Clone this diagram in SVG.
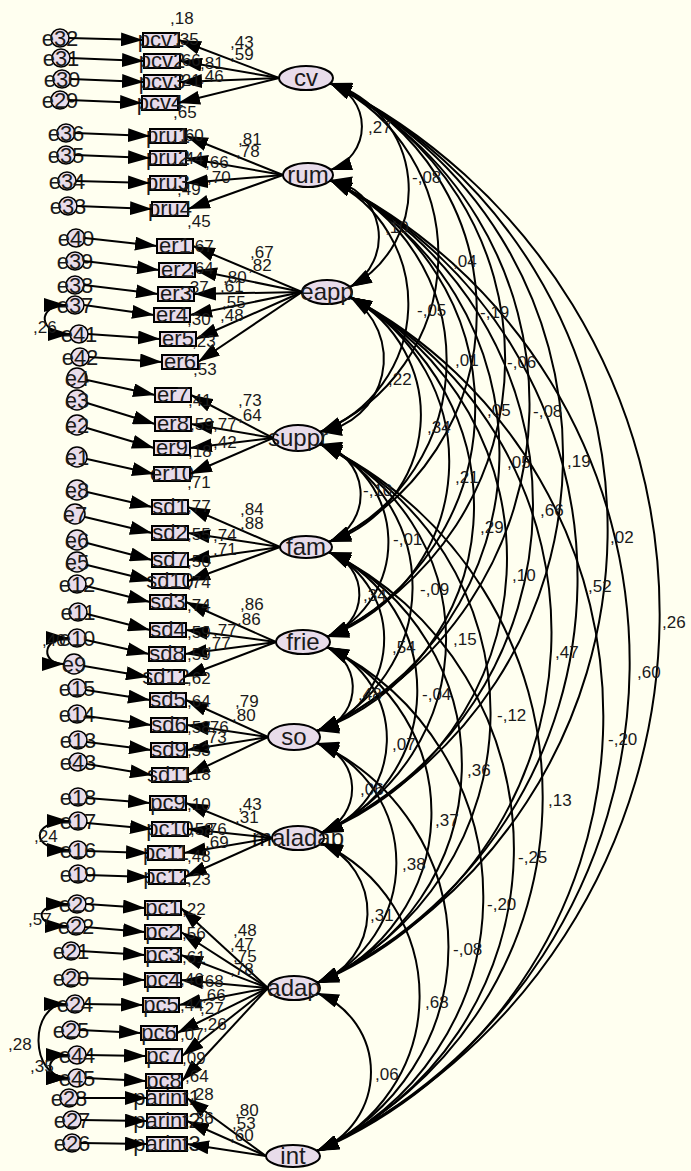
<svg xmlns="http://www.w3.org/2000/svg" width="691" height="1171" viewBox="0 0 691 1171">
<defs>
<marker id="ah" viewBox="0 0 22 14" refX="22" refY="7" markerWidth="22" markerHeight="14" markerUnits="userSpaceOnUse" orient="auto-start-reverse"><path d="M0,0 L22,7 L0,14 z" fill="#000"/></marker>
<style>
.lat{fill:#E8DCEA;stroke:#000;stroke-width:2}
.obs{fill:#E8DCEA;stroke:#000;stroke-width:2}
.err{fill:#E8DCEA;stroke:#000;stroke-width:1.5}
text{font-family:"Liberation Sans",Arial,sans-serif;fill:#1a1a1a}
.tl{font-size:24px;text-anchor:middle}
.tb{font-size:22px;text-anchor:middle}
.te{font-size:22px;text-anchor:middle}
.tn{font-size:17px}
.c{fill:none;stroke:#000;stroke-width:2}
.a{marker-end:url(#ah)}
.d{marker-start:url(#ah);marker-end:url(#ah)}
</style>
</defs>
<rect width="691" height="1171" fill="#FFFFF0"/>

<g id="nodes">
<g id="cv"><ellipse class="lat" cx="306" cy="78" rx="27" ry="12"/><text class="tl" x="306" y="86">cv</text></g>
<g id="rum"><ellipse class="lat" cx="308" cy="175" rx="25" ry="12"/><text class="tl" x="308" y="183">rum</text></g>
<g id="eapp"><ellipse class="lat" cx="327" cy="292" rx="25" ry="12"/><text class="tl" x="327" y="300">eapp</text></g>
<g id="suppr"><ellipse class="lat" cx="298" cy="438" rx="25" ry="13"/><text class="tl" x="298" y="446">suppr</text></g>
<g id="fam"><ellipse class="lat" cx="306" cy="547" rx="26" ry="11"/><text class="tl" x="306" y="555">fam</text></g>
<g id="frie"><ellipse class="lat" cx="303" cy="642" rx="27" ry="12"/><text class="tl" x="303" y="650">frie</text></g>
<g id="so"><ellipse class="lat" cx="294" cy="737" rx="26" ry="13"/><text class="tl" x="294" y="745">so</text></g>
<g id="maladap"><ellipse class="lat" cx="298" cy="838" rx="26" ry="12"/><text class="tl" x="298" y="846">maladap</text></g>
<g id="adap"><ellipse class="lat" cx="294" cy="988" rx="26" ry="12"/><text class="tl" x="294" y="996">adap</text></g>
<g id="int"><ellipse class="lat" cx="293" cy="1156" rx="27" ry="11"/><text class="tl" x="293" y="1164">int</text></g>

<g id="n-pcv1"><rect class="obs" x="143" y="33" width="36" height="14"/><text class="tb" x="161" y="47">pcv1</text></g>
<g id="n-pcv2"><rect class="obs" x="144" y="54" width="36" height="14"/><text class="tb" x="162" y="68">pcv2</text></g>
<g id="n-pcv3"><rect class="obs" x="144" y="75" width="36" height="14"/><text class="tb" x="162" y="89">pcv3</text></g>
<g id="n-pcv4"><rect class="obs" x="142" y="96" width="36" height="14"/><text class="tb" x="160" y="110">pcv4</text></g>
<g id="n-pru1"><rect class="obs" x="150" y="129" width="36" height="14"/><text class="tb" x="168" y="143">pru1</text></g>
<g id="n-pru2"><rect class="obs" x="150" y="151" width="36" height="14"/><text class="tb" x="168" y="165">pru2</text></g>
<g id="n-pru3"><rect class="obs" x="150" y="176" width="36" height="14"/><text class="tb" x="168" y="190">pru3</text></g>
<g id="n-pru4"><rect class="obs" x="152" y="202" width="36" height="14"/><text class="tb" x="170" y="216">pru4</text></g>
<g id="n-er1"><rect class="obs" x="157" y="239" width="36" height="14"/><text class="tb" x="175" y="253">er1</text></g>
<g id="n-er2"><rect class="obs" x="159" y="263" width="36" height="14"/><text class="tb" x="177" y="277">er2</text></g>
<g id="n-er3"><rect class="obs" x="158" y="287" width="36" height="14"/><text class="tb" x="176" y="301">er3</text></g>
<g id="n-er4"><rect class="obs" x="154" y="308" width="36" height="14"/><text class="tb" x="172" y="322">er4</text></g>
<g id="n-er5"><rect class="obs" x="160" y="332" width="36" height="14"/><text class="tb" x="178" y="346">er5</text></g>
<g id="n-er6"><rect class="obs" x="162" y="355" width="36" height="14"/><text class="tb" x="180" y="369">er6</text></g>
<g id="n-er7"><rect class="obs" x="155" y="388" width="36" height="14"/><text class="tb" x="173" y="402">er7</text></g>
<g id="n-er8"><rect class="obs" x="155" y="417" width="36" height="14"/><text class="tb" x="173" y="431">er8</text></g>
<g id="n-er9"><rect class="obs" x="154" y="441" width="36" height="14"/><text class="tb" x="172" y="455">er9</text></g>
<g id="n-er10"><rect class="obs" x="154" y="467" width="36" height="14"/><text class="tb" x="172" y="481">er10</text></g>
<g id="n-sd1"><rect class="obs" x="152" y="500" width="36" height="14"/><text class="tb" x="170" y="514">sd1</text></g>
<g id="n-sd2"><rect class="obs" x="152" y="526" width="36" height="14"/><text class="tb" x="170" y="540">sd2</text></g>
<g id="n-sd7"><rect class="obs" x="152" y="553" width="36" height="14"/><text class="tb" x="170" y="567">sd7</text></g>
<g id="n-sd10"><rect class="obs" x="152" y="574" width="36" height="14"/><text class="tb" x="170" y="588">sd10</text></g>
<g id="n-sd3"><rect class="obs" x="150" y="595" width="36" height="14"/><text class="tb" x="168" y="609">sd3</text></g>
<g id="n-sd4"><rect class="obs" x="150" y="623" width="36" height="14"/><text class="tb" x="168" y="637">sd4</text></g>
<g id="n-sd8"><rect class="obs" x="149" y="647" width="36" height="14"/><text class="tb" x="167" y="661">sd8</text></g>
<g id="n-sd12"><rect class="obs" x="148" y="670" width="36" height="14"/><text class="tb" x="166" y="684">sd12</text></g>
<g id="n-sd5"><rect class="obs" x="150" y="693" width="36" height="14"/><text class="tb" x="168" y="707">sd5</text></g>
<g id="n-sd6"><rect class="obs" x="151" y="718" width="36" height="14"/><text class="tb" x="169" y="732">sd6</text></g>
<g id="n-sd9"><rect class="obs" x="151" y="743" width="36" height="14"/><text class="tb" x="169" y="757">sd9</text></g>
<g id="n-sd11"><rect class="obs" x="152" y="768" width="36" height="14"/><text class="tb" x="170" y="782">sd11</text></g>
<g id="n-pc9"><rect class="obs" x="150" y="796" width="36" height="14"/><text class="tb" x="168" y="810">pc9</text></g>
<g id="n-pc10"><rect class="obs" x="152" y="822" width="36" height="14"/><text class="tb" x="170" y="836">pc10</text></g>
<g id="n-pc11"><rect class="obs" x="148" y="846" width="36" height="14"/><text class="tb" x="166" y="860">pc11</text></g>
<g id="n-pc12"><rect class="obs" x="149" y="870" width="36" height="14"/><text class="tb" x="167" y="884">pc12</text></g>
<g id="n-pc1"><rect class="obs" x="145" y="901" width="36" height="14"/><text class="tb" x="163" y="915">pc1</text></g>
<g id="n-pc2"><rect class="obs" x="145" y="925" width="36" height="14"/><text class="tb" x="163" y="939">pc2</text></g>
<g id="n-pc3"><rect class="obs" x="145" y="948" width="36" height="14"/><text class="tb" x="163" y="962">pc3</text></g>
<g id="n-pc4"><rect class="obs" x="145" y="973" width="36" height="14"/><text class="tb" x="163" y="987">pc4</text></g>
<g id="n-pc5"><rect class="obs" x="143" y="998" width="36" height="14"/><text class="tb" x="161" y="1012">pc5</text></g>
<g id="n-pc6"><rect class="obs" x="141" y="1026" width="36" height="14"/><text class="tb" x="159" y="1040">pc6</text></g>
<g id="n-pc7"><rect class="obs" x="146" y="1049" width="36" height="14"/><text class="tb" x="164" y="1063">pc7</text></g>
<g id="n-pc8"><rect class="obs" x="146" y="1074" width="36" height="14"/><text class="tb" x="164" y="1088">pc8</text></g>
<g id="n-parint1"><rect class="obs" x="147" y="1091" width="40" height="14"/><text class="tb" x="167" y="1105">parint1</text></g>
<g id="n-parint2"><rect class="obs" x="147" y="1114" width="40" height="14"/><text class="tb" x="167" y="1128">parint2</text></g>
<g id="n-parint3"><rect class="obs" x="147" y="1137" width="40" height="14"/><text class="tb" x="167" y="1151">parint3</text></g>

<g id="e32"><circle class="err" cx="60" cy="38" r="9"/><text class="te" x="60" y="46">e32</text></g>
<g id="e31"><circle class="err" cx="61" cy="58" r="9"/><text class="te" x="61" y="66">e31</text></g>
<g id="e30"><circle class="err" cx="62" cy="79" r="9"/><text class="te" x="62" y="87">e30</text></g>
<g id="e29"><circle class="err" cx="60" cy="100" r="9"/><text class="te" x="60" y="108">e29</text></g>
<g id="e36"><circle class="err" cx="66" cy="133" r="9"/><text class="te" x="66" y="141">e36</text></g>
<g id="e35"><circle class="err" cx="66" cy="155" r="9"/><text class="te" x="66" y="163">e35</text></g>
<g id="e34"><circle class="err" cx="67" cy="181" r="9"/><text class="te" x="67" y="189">e34</text></g>
<g id="e33"><circle class="err" cx="68" cy="206" r="9"/><text class="te" x="68" y="214">e33</text></g>
<g id="e40"><circle class="err" cx="76" cy="238" r="9"/><text class="te" x="76" y="246">e40</text></g>
<g id="e39"><circle class="err" cx="75" cy="261" r="9"/><text class="te" x="75" y="269">e39</text></g>
<g id="e38"><circle class="err" cx="75" cy="285" r="9"/><text class="te" x="75" y="293">e38</text></g>
<g id="e37"><circle class="err" cx="75" cy="305" r="9"/><text class="te" x="75" y="313">e37</text></g>
<g id="e41"><circle class="err" cx="79" cy="334" r="9"/><text class="te" x="79" y="342">e41</text></g>
<g id="e42"><circle class="err" cx="80" cy="357" r="9"/><text class="te" x="80" y="365">e42</text></g>
<g id="e4"><circle class="err" cx="77" cy="378" r="10"/><text class="te" x="77" y="386">e4</text></g>
<g id="e3"><circle class="err" cx="77" cy="400" r="10"/><text class="te" x="77" y="408">e3</text></g>
<g id="e2"><circle class="err" cx="77" cy="425" r="10"/><text class="te" x="77" y="433">e2</text></g>
<g id="e1"><circle class="err" cx="77" cy="457" r="10"/><text class="te" x="77" y="465">e1</text></g>
<g id="e8"><circle class="err" cx="77" cy="490" r="10"/><text class="te" x="77" y="498">e8</text></g>
<g id="e7"><circle class="err" cx="75" cy="514" r="10"/><text class="te" x="75" y="522">e7</text></g>
<g id="e6"><circle class="err" cx="77" cy="540" r="10"/><text class="te" x="77" y="548">e6</text></g>
<g id="e5"><circle class="err" cx="77" cy="562" r="10"/><text class="te" x="77" y="570">e5</text></g>
<g id="e12"><circle class="err" cx="77" cy="584" r="9"/><text class="te" x="77" y="592">e12</text></g>
<g id="e11"><circle class="err" cx="78" cy="612" r="9"/><text class="te" x="78" y="620">e11</text></g>
<g id="e10"><circle class="err" cx="77" cy="638" r="9"/><text class="te" x="77" y="646">e10</text></g>
<g id="e9"><circle class="err" cx="74" cy="664" r="10"/><text class="te" x="74" y="672">e9</text></g>
<g id="e15"><circle class="err" cx="77" cy="688" r="9"/><text class="te" x="77" y="696">e15</text></g>
<g id="e14"><circle class="err" cx="77" cy="714" r="9"/><text class="te" x="77" y="722">e14</text></g>
<g id="e13"><circle class="err" cx="78" cy="740" r="9"/><text class="te" x="78" y="748">e13</text></g>
<g id="e43"><circle class="err" cx="78" cy="762" r="9"/><text class="te" x="78" y="770">e43</text></g>
<g id="e18"><circle class="err" cx="78" cy="797" r="9"/><text class="te" x="78" y="805">e18</text></g>
<g id="e17"><circle class="err" cx="78" cy="821" r="9"/><text class="te" x="78" y="829">e17</text></g>
<g id="e16"><circle class="err" cx="78" cy="850" r="9"/><text class="te" x="78" y="858">e16</text></g>
<g id="e19"><circle class="err" cx="78" cy="874" r="9"/><text class="te" x="78" y="882">e19</text></g>
<g id="e23"><circle class="err" cx="77" cy="904" r="9"/><text class="te" x="77" y="912">e23</text></g>
<g id="e22"><circle class="err" cx="76" cy="926" r="9"/><text class="te" x="76" y="934">e22</text></g>
<g id="e21"><circle class="err" cx="71" cy="951" r="9"/><text class="te" x="71" y="959">e21</text></g>
<g id="e20"><circle class="err" cx="71" cy="978" r="9"/><text class="te" x="71" y="986">e20</text></g>
<g id="e24"><circle class="err" cx="75" cy="1004" r="9"/><text class="te" x="75" y="1012">e24</text></g>
<g id="e25"><circle class="err" cx="71" cy="1030" r="9"/><text class="te" x="71" y="1038">e25</text></g>
<g id="e44"><circle class="err" cx="77" cy="1055" r="9"/><text class="te" x="77" y="1063">e44</text></g>
<g id="e45"><circle class="err" cx="77" cy="1078" r="9"/><text class="te" x="77" y="1086">e45</text></g>
<g id="e28"><circle class="err" cx="69" cy="1098" r="9"/><text class="te" x="69" y="1106">e28</text></g>
<g id="e27"><circle class="err" cx="72" cy="1120" r="9"/><text class="te" x="72" y="1128">e27</text></g>
<g id="e26"><circle class="err" cx="72" cy="1143" r="9"/><text class="te" x="72" y="1151">e26</text></g>
</g>

<g id="connectors" class="c">
<!-- error to indicator -->
<path class="a" d="M69,38 L143,40"/><path class="a" d="M70,58 L144,61"/><path class="a" d="M71,79 L144,82"/><path class="a" d="M69,100 L142,103"/>
<path class="a" d="M75,133 L150,136"/><path class="a" d="M75,155 L150,158"/><path class="a" d="M76,181 L150,183"/><path class="a" d="M77,206 L152,209"/>
<path class="a" d="M85,238 L157,246"/><path class="a" d="M84,261 L159,270"/><path class="a" d="M84,285 L158,294"/><path class="a" d="M84,305 L154,315"/><path class="a" d="M88,334 L160,339"/><path class="a" d="M89,357 L162,362"/>
<path class="a" d="M87,380 L155,395"/><path class="a" d="M87,403 L155,424"/><path class="a" d="M87,428 L154,448"/><path class="a" d="M87,459 L154,474"/>
<path class="a" d="M87,492 L152,507"/><path class="a" d="M85,517 L152,533"/><path class="a" d="M87,543 L152,560"/><path class="a" d="M87,565 L152,581"/>
<path class="a" d="M86,586 L150,602"/><path class="a" d="M87,614 L150,630"/><path class="a" d="M86,640 L149,654"/><path class="a" d="M84,666 L148,677"/>
<path class="a" d="M86,690 L150,700"/><path class="a" d="M86,716 L151,725"/><path class="a" d="M87,742 L151,750"/><path class="a" d="M87,764 L152,775"/>
<path class="a" d="M87,798 L150,803"/><path class="a" d="M87,823 L152,829"/><path class="a" d="M87,851 L148,853"/><path class="a" d="M87,875 L149,877"/>
<path class="a" d="M86,904 L145,908"/><path class="a" d="M85,927 L145,932"/><path class="a" d="M80,951 L145,955"/><path class="a" d="M80,978 L145,980"/><path class="a" d="M84,1004 L143,1005"/><path class="a" d="M80,1030 L141,1033"/><path class="a" d="M86,1055 L146,1056"/><path class="a" d="M86,1078 L146,1081"/>
<path class="a" d="M78,1098 L147,1098"/><path class="a" d="M81,1120 L147,1121"/><path class="a" d="M81,1143 L147,1144"/>
<!-- factor loadings -->
<path class="a" d="M279,78 L179,40"/><path class="a" d="M279,78 L180,61"/><path class="a" d="M279,78 L180,82"/><path class="a" d="M279,78 L178,103"/>
<path class="a" d="M283,175 L186,136"/><path class="a" d="M283,175 L186,158"/><path class="a" d="M283,175 L186,183"/><path class="a" d="M283,175 L188,209"/>
<path class="a" d="M302,292 L193,246"/><path class="a" d="M302,292 L195,270"/><path class="a" d="M302,292 L194,294"/><path class="a" d="M302,292 L190,315"/><path class="a" d="M302,292 L196,339"/><path class="a" d="M302,292 L198,362"/>
<path class="a" d="M273,438 L191,395"/><path class="a" d="M273,438 L191,424"/><path class="a" d="M273,438 L190,448"/><path class="a" d="M273,438 L190,474"/>
<path class="a" d="M280,547 L188,507"/><path class="a" d="M280,547 L188,533"/><path class="a" d="M280,547 L188,560"/><path class="a" d="M280,547 L188,581"/>
<path class="a" d="M276,642 L186,602"/><path class="a" d="M276,642 L186,630"/><path class="a" d="M276,642 L185,654"/><path class="a" d="M276,642 L184,677"/>
<path class="a" d="M268,737 L186,700"/><path class="a" d="M268,737 L187,725"/><path class="a" d="M268,737 L187,750"/><path class="a" d="M268,737 L188,775"/>
<path class="a" d="M272,838 L186,803"/><path class="a" d="M272,838 L188,829"/><path class="a" d="M272,838 L184,853"/><path class="a" d="M272,838 L185,877"/>
<path class="a" d="M268,988 L181,908"/><path class="a" d="M268,988 L181,932"/><path class="a" d="M268,988 L181,955"/><path class="a" d="M268,988 L181,980"/><path class="a" d="M268,988 L179,1005"/><path class="a" d="M268,988 L177,1033"/><path class="a" d="M268,988 L182,1056"/><path class="a" d="M268,988 L182,1081"/>
<path class="a" d="M266,1156 L187,1098"/><path class="a" d="M266,1156 L187,1121"/><path class="a" d="M266,1156 L187,1144"/>
<!-- error covariances -->
<path class="d" d="M66,305 C37,305 37,334 70,334"/>
<path class="d" d="M68,638 C41,638 41,664 64,664"/>
<path class="d" d="M69,821 C30,821 30,850 69,850"/>
<path class="d" d="M68,904 C33,904 33,926 67,926"/>
<path class="d" d="M66,1004 C29,1004 29,1078 68,1078"/>
<path class="d" d="M68,1055 C44,1055 44,1078 68,1078"/>
<!-- factor covariances -->
<path class="d" d="M330,83 A45.6,45.6 0 0 1 330,170"/>
<path class="d" d="M330,83 A110.9,110.9 0 0 1 350,287"/>
<path class="d" d="M330,83 A191.1,191.1 0 0 1 320,432"/>
<path class="d" d="M330,83 A252.4,252.4 0 0 1 329,542"/>
<path class="d" d="M330,83 A305.5,305.5 0 0 1 327,637"/>
<path class="d" d="M330,83 A357.9,357.9 0 0 1 317,731"/>
<path class="d" d="M330,83 A414.8,414.8 0 0 1 321,833"/>
<path class="d" d="M330,83 A498.5,498.5 0 0 1 317,983"/>
<path class="d" d="M330,83 A592.3,592.3 0 0 1 317,1151"/>
<path class="d" d="M330,180 A57.7,57.7 0 0 1 350,287"/>
<path class="d" d="M330,180 A137.1,137.1 0 0 1 320,432"/>
<path class="d" d="M330,180 A198.4,198.4 0 0 1 329,542"/>
<path class="d" d="M330,180 A251.3,251.3 0 0 1 327,637"/>
<path class="d" d="M330,180 A303.8,303.8 0 0 1 317,731"/>
<path class="d" d="M330,180 A360.7,360.7 0 0 1 321,833"/>
<path class="d" d="M330,180 A444.4,444.4 0 0 1 317,983"/>
<path class="d" d="M330,180 A538.1,538.1 0 0 1 317,1151"/>
<path class="d" d="M350,297 A73.7,73.7 0 0 1 320,432"/>
<path class="d" d="M350,297 A133.7,133.7 0 0 1 329,542"/>
<path class="d" d="M350,297 A186.6,186.6 0 0 1 327,637"/>
<path class="d" d="M350,297 A239,239 0 0 1 317,731"/>
<path class="d" d="M350,297 A295.9,295.9 0 0 1 321,833"/>
<path class="d" d="M350,297 A379.6,379.6 0 0 1 317,983"/>
<path class="d" d="M350,297 A473.4,473.4 0 0 1 317,1151"/>
<path class="d" d="M320,444 A51.6,51.6 0 0 1 329,542"/>
<path class="d" d="M320,444 A104.3,104.3 0 0 1 327,637"/>
<path class="d" d="M320,444 A156.5,156.5 0 0 1 317,731"/>
<path class="d" d="M320,444 A213.4,213.4 0 0 1 321,833"/>
<path class="d" d="M320,444 A297.1,297.1 0 0 1 317,983"/>
<path class="d" d="M320,444 A390.8,390.8 0 0 1 317,1151"/>
<path class="d" d="M329,552 A44.5,44.5 0 0 1 327,637"/>
<path class="d" d="M329,552 A96.4,96.4 0 0 1 317,731"/>
<path class="d" d="M329,552 A153.2,153.2 0 0 1 321,833"/>
<path class="d" d="M329,552 A236.8,236.8 0 0 1 317,983"/>
<path class="d" d="M329,552 A330.5,330.5 0 0 1 317,1151"/>
<path class="d" d="M327,647 A44.5,44.5 0 0 1 317,731"/>
<path class="d" d="M327,647 A100.3,100.3 0 0 1 321,833"/>
<path class="d" d="M327,647 A183.8,183.8 0 0 1 317,983"/>
<path class="d" d="M327,647 A277.6,277.6 0 0 1 317,1151"/>
<path class="d" d="M317,743 A47.2,47.2 0 0 1 321,833"/>
<path class="d" d="M317,743 A130.4,130.4 0 0 1 317,983"/>
<path class="d" d="M317,743 A224,224 0 0 1 317,1151"/>
<path class="d" d="M321,843 A74.8,74.8 0 0 1 317,983"/>
<path class="d" d="M321,843 A168.2,168.2 0 0 1 317,1151"/>
<path class="d" d="M317,993 A84.8,84.8 0 0 1 317,1151"/>
</g>

<g id="labels" class="tn">
<text x="170" y="24">,18</text><text x="175" y="45">,35</text><text x="230" y="48">,43</text><text x="230" y="60">,59</text><text x="177" y="66">,66</text><text x="200" y="69">,81</text><text x="177" y="86">,21</text><text x="200" y="82">,46</text>
<text x="173" y="118">,65</text><text x="180" y="141">,60</text><text x="180" y="164">,44</text><text x="238" y="145">,81</text><text x="236" y="157">,78</text><text x="205" y="168">,66</text><text x="207" y="183">,70</text><text x="177" y="195">,49</text>
<text x="187" y="227">,45</text><text x="190" y="252">,67</text><text x="190" y="274">,64</text><text x="185" y="293">,37</text><text x="187" y="325">,30</text><text x="192" y="347">,23</text><text x="250" y="258">,67</text><text x="248" y="271">,82</text><text x="223" y="283">,80</text><text x="220" y="292">,61</text><text x="222" y="308">,55</text><text x="220" y="321">,48</text>
<text x="193" y="375">,53</text><text x="188" y="406">,41</text><text x="190" y="430">,59</text><text x="188" y="457">,18</text><text x="238" y="406">,73</text><text x="238" y="421">,64</text><text x="213" y="430">,77</text><text x="213" y="448">,42</text>
<text x="187" y="488">,71</text><text x="187" y="512">,77</text><text x="187" y="540">,55</text><text x="187" y="567">,50</text><text x="240" y="515">,84</text><text x="240" y="529">,88</text><text x="213" y="541">,74</text><text x="213" y="555">,71</text>
<text x="187" y="588">,74</text><text x="187" y="611">,74</text><text x="187" y="638">,59</text><text x="187" y="660">,59</text><text x="240" y="610">,86</text><text x="237" y="625">,86</text><text x="213" y="636">,77</text><text x="207" y="649">,77</text>
<text x="187" y="684">,62</text><text x="187" y="707">,64</text><text x="187" y="733">,58</text><text x="187" y="756">,53</text><text x="235" y="707">,79</text><text x="232" y="721">,80</text><text x="205" y="733">,76</text><text x="203" y="743">,73</text>
<text x="187" y="780">,18</text><text x="187" y="810">,10</text><text x="190" y="835">,58</text><text x="187" y="862">,48</text><text x="238" y="810">,43</text><text x="235" y="823">,31</text><text x="203" y="835">,76</text><text x="205" y="848">,69</text>
<text x="187" y="885">,23</text><text x="182" y="915">,22</text><text x="182" y="939">,56</text><text x="182" y="963">,61</text><text x="180" y="985">,46</text><text x="180" y="1011">,44</text><text x="180" y="1040">,07</text><text x="182" y="1064">,09</text>
<text x="233" y="936">,48</text><text x="230" y="950">,47</text><text x="233" y="962">,75</text><text x="230" y="975">,78</text><text x="200" y="987">,68</text><text x="202" y="1001">,66</text><text x="200" y="1014">,27</text><text x="203" y="1030">,26</text>
<text x="185" y="1082">,64</text><text x="190" y="1100">,28</text><text x="190" y="1124">,36</text><text x="235" y="1116">,80</text><text x="232" y="1129">,53</text><text x="230" y="1141">,60</text>
<text x="33" y="333">,26</text><text x="42" y="646">,40</text><text x="34" y="842">,24</text><text x="28" y="925">,57</text><text x="8" y="1050">,28</text><text x="30" y="1072">,35</text>
<text x="368" y="133">,27</text><text x="412" y="183">-,08</text><text x="453" y="267">,04</text><text x="480" y="318">-,19</text><text x="507" y="368">-,06</text><text x="533" y="417">-,08</text><text x="567" y="467">,19</text><text x="610" y="543">,02</text><text x="662" y="628">,26</text>
<text x="385" y="233">,10</text><text x="417" y="316">-,05</text><text x="455" y="366">,01</text><text x="487" y="416">,05</text><text x="507" y="468">,05</text><text x="540" y="516">,66</text><text x="588" y="592">,52</text><text x="637" y="678">,60</text>
<text x="388" y="385">,22</text><text x="427" y="433">,34</text><text x="455" y="483">,21</text><text x="480" y="533">,29</text><text x="512" y="581">,10</text><text x="555" y="658">,47</text><text x="608" y="745">-,20</text>
<text x="363" y="496">-,10</text><text x="393" y="545">-,01</text><text x="420" y="595">-,09</text><text x="453" y="645">,15</text><text x="497" y="721">-,12</text><text x="548" y="806">,13</text>
<text x="363" y="601">,34</text><text x="392" y="653">,54</text><text x="422" y="700">-,04</text><text x="467" y="776">,36</text><text x="518" y="863">-,25</text>
<text x="358" y="700">,48</text><text x="392" y="750">,07</text><text x="435" y="826">,37</text><text x="487" y="910">-,20</text>
<text x="360" y="795">,06</text><text x="402" y="870">,38</text><text x="453" y="955">-,08</text>
<text x="370" y="921">,31</text><text x="425" y="1008">,68</text>
<text x="375" y="1080">,06</text>
</g>
</svg>
